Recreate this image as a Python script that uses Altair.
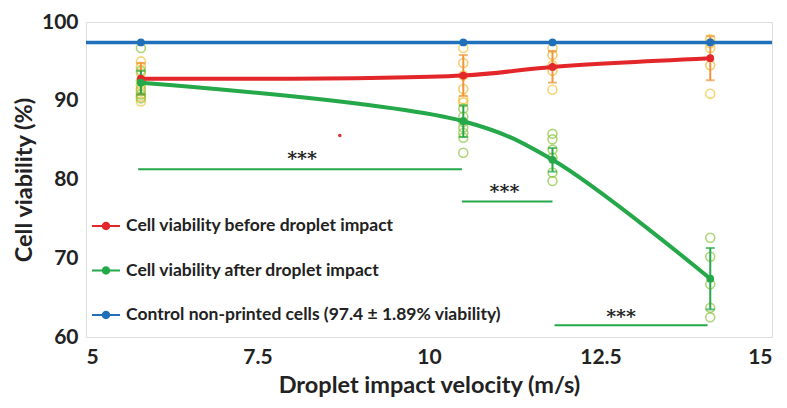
import altair as alt
import pandas as pd

# ---- data ----
velocity = [5.8, 10.5, 11.8, 14.1]
before_mean = [92.8, 93.2, 94.3, 95.4]
before_err = [2.0, 2.6, 2.0, 2.8]
after_mean = [92.3, 87.4, 82.5, 67.4]
after_err = [1.5, 2.0, 1.5, 3.9]
control_value = 97.4
control_x = [5, 5.8, 10.5, 11.8, 14.1, 15]

before_points = [
    [95.0, 94.3, 93.5, 92.0, 91.2, 90.5, 89.9],
    [96.7, 94.8, 93.2, 91.5, 90.2, 89.8],
    [96.7, 95.8, 94.5, 93.8, 91.4],
    [97.8, 97.3, 96.7, 94.5, 90.9],
]
after_points = [
    [96.7, 93.8, 92.5, 91.5, 90.8, 90.3],
    [89.0, 88.0, 87.3, 86.6, 85.9, 85.3, 83.4],
    [85.8, 85.1, 83.8, 82.8, 80.9, 79.8],
    [72.6, 70.2, 66.7, 63.7, 62.5],
]

sig_x1 = [5.76, 10.48, 11.83]
sig_x2 = [10.48, 11.8, 14.06]
sig_y = [81.3, 77.2, 61.5]
sig_text_x = [8.15, 11.1, 12.8]
sig_text_y = [82.6, 78.4, 62.5]
sig_label = ["***", "***", "***"]

stray_x = [8.7]
stray_y = [85.6]

names = [
    "Cell viability before droplet impact",
    "Cell viability after droplet impact",
    "Control non-printed cells (97.4 \u00b1 1.89% viability)",
]

RED = "#e3262a"
GREEN = "#25a84a"
BLUE = "#1f6fba"
YELLOW = "#f3c53a"
ORANGE = "#f0963a"
LGREEN = "#8cc63f"

# ---- tables ----
rows = []
for v, pts in zip(velocity, before_points):
    for i, p in enumerate(pts):
        rows.append({"x": v, "y": p, "c": YELLOW if i % 2 == 0 else "#f2b733"})
for v, pts in zip(velocity, after_points):
    for p in pts:
        rows.append({"x": v, "y": p, "c": LGREEN})
scatter = pd.DataFrame(rows)

err = pd.DataFrame(
    [{"x": v, "lo": m - e, "hi": m + e, "c": ORANGE} for v, m, e in zip(velocity, before_mean, before_err)]
    + [{"x": v, "lo": m - e, "hi": m + e, "c": GREEN} for v, m, e in zip(velocity, after_mean, after_err)]
)
err_caps = pd.concat([
    err[["x", "lo", "c"]].rename(columns={"lo": "y"}),
    err[["x", "hi", "c"]].rename(columns={"hi": "y"}),
])

lines = pd.DataFrame(
    [{"x": v, "y": m, "s": names[0], "c": RED} for v, m in zip(velocity, before_mean)]
    + [{"x": v, "y": m, "s": names[1], "c": GREEN} for v, m in zip(velocity, after_mean)]
)
control = pd.DataFrame([{"x": v, "y": control_value, "s": names[2], "c": BLUE} for v in control_x])
means = pd.concat([lines, control[(control.x > 5) & (control.x < 15)]])

sig = pd.DataFrame({"x1": sig_x1, "x2": sig_x2, "y": sig_y})
sigt = pd.DataFrame({"x": sig_text_x, "y": sig_text_y, "t": sig_label})
stray = pd.DataFrame({"x": stray_x, "y": stray_y})

FONT = "Lato"
xs = alt.Scale(domain=[5, 15], nice=False)
ys = alt.Scale(domain=[60, 100], nice=False)
X = alt.X("x:Q", scale=xs, axis=alt.Axis(
    values=[5, 7.5, 10, 12.5, 15], format="~g", title="Droplet impact velocity (m/s)",
    grid=False, ticks=False, domain=False, labelFontSize=21, labelFontWeight="bold",
    labelPadding=9, titleFontSize=23.5, titleFontWeight="bold", titlePadding=6,
    labelFont=FONT, titleFont=FONT, labelColor="#222", titleColor="#222"))
Y = alt.Y("y:Q", scale=ys, axis=alt.Axis(
    values=[60, 70, 80, 90, 100], title="Cell viability (%)", grid=False, ticks=False,
    domain=False, labelFontSize=21, labelFontWeight="bold", labelPadding=8,
    titleFontSize=23.5, titleFontWeight="bold", titlePadding=5,
    labelFont=FONT, titleFont=FONT, labelColor="#222", titleColor="#222"))

circles = alt.Chart(scatter).mark_point(filled=False, size=80, strokeWidth=1.6).encode(
    x=X, y=Y, color=alt.Color("c:N", scale=None))

bars = alt.Chart(err).mark_rule(strokeWidth=2).encode(
    x="x:Q", y=alt.Y("lo:Q", scale=ys), y2="hi:Q", color=alt.Color("c:N", scale=None))
caps = alt.Chart(err_caps).mark_tick(thickness=2, size=9, orient="horizontal").encode(
    x="x:Q", y="y:Q", color=alt.Color("c:N", scale=None))

curve = alt.Chart(lines).mark_line(strokeWidth=4, interpolate="catmull-rom").encode(
    x="x:Q", y="y:Q", detail="s:N", color=alt.Color("c:N", scale=None))
ctrl = alt.Chart(control).mark_line(strokeWidth=3.5, clip=True).encode(
    x="x:Q", y="y:Q", color=alt.Color("c:N", scale=None))

legend_path = ("M-1,-0.07H1V0.07H-1Z"
               "M-0.3,0A0.3,0.3 0 1,1 0.3,0A0.3,0.3 0 1,1 -0.3,0Z")
dots = alt.Chart(means).mark_point(filled=True, size=60, opacity=1).encode(
    x="x:Q", y="y:Q",
    fill=alt.Fill("s:N", scale=alt.Scale(domain=names, range=[RED, GREEN, BLUE]),
                  legend=alt.Legend(
                      title=None, orient="none", legendX=6, legendY=190,
                      symbolType=legend_path, symbolSize=784, symbolStrokeWidth=0,
                      symbolOpacity=1, labelFontSize=17.5, labelFontWeight="bold",
                      labelFont=FONT, labelColor="#222", labelLimit=600,
                      labelOffset=6, rowPadding=21.5)))

siglines = alt.Chart(sig).mark_rule(strokeWidth=2, color=GREEN).encode(
    x="x1:Q", x2="x2:Q", y="y:Q")
sigtext = alt.Chart(sigt).mark_text(fontSize=19, fontWeight="bold", font="DejaVu Serif",
                                    color="#222").encode(x="x:Q", y="y:Q", text="t:N")
straydot = alt.Chart(stray).mark_point(filled=True, size=12, color=RED, opacity=1).encode(
    x="x:Q", y="y:Q")

chart = alt.layer(circles, bars, caps, curve, ctrl, dots, siglines, sigtext, straydot).properties(
    width=686, height=315,
    autosize=alt.AutoSizeParams(type="none"),
    padding={"left": 78, "top": 14, "right": 4, "bottom": 64},
).configure_view(stroke="black", strokeWidth=3).configure(background="white")

chart.save("out.html", embed_options={"renderer": "svg", "actions": False})
